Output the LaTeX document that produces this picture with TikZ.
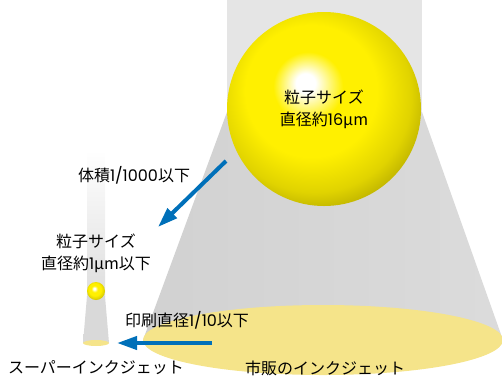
\documentclass[tikz,border=0pt]{standalone}
\usepackage{fontspec}
\setmainfont{Noto Sans CJK JP}
\newfontfamily\numfont{Poppins}
\newcommand{\numtext}[1]{{\numfont #1}}
\usetikzlibrary{arrows.meta}
\definecolor{arrowblue}{RGB}{0,112,185}
\definecolor{inkyellow}{RGB}{245,228,138}
\definecolor{ballyellow}{RGB}{255,240,0}
\pgfdeclareradialshading{yellowball}{\pgfpoint{-5bp}{7bp}}{%
	color(0bp)=(white); color(2.5bp)=(white); color(9bp)=(ballyellow);
	color(17bp)=(ballyellow); color(25bp)=(ballyellow!88!black);
	color(34bp)=(ballyellow!60!black); color(50bp)=(ballyellow!60!black)}
\tikzset{
	label text/.style={font=\fontsize{16}{22}\selectfont, align=center, inner sep=0pt},
	droplet/.style={circle, shading=yellowball, inner sep=0pt},
	flow/.style={draw=arrowblue, line width=4pt, -{Triangle[length=20pt,width=13pt]}},
}
\begin{document}
\begin{tikzpicture}[x=1pt,y=-1pt]
	\useasboundingbox (0,0) rectangle (502,378);
	% commercial nozzle and its spray
	\fill[black!10] (227,0) rectangle (422,112);
	\shade[left color=black!18, middle color=white, right color=black!14] (227,112) -- (422,112) -- (503,340) -- (143,340) -- cycle;
	\fill[inkyellow] (323,340) ellipse [x radius=180, y radius=35];
	% super inkjet nozzle
	\shade[top color=white, bottom color=black!13] (87,150) rectangle (105,296);
	\shade[left color=black!15, middle color=white, right color=black!15] (87,296) -- (105,296) -- (109,343) -- (83,343) -- cycle;
	\fill[inkyellow] (96,343) ellipse [x radius=13, y radius=3];
	
	\node (bigball) [droplet, minimum size=194pt, label text] at (324,109) {粒子サイズ\\直径約\numtext{16}μm};
	\node (smallball) [droplet, minimum size=18pt] at (96,291) {};
	\node (volume) [label text] at (134,175) {体積\numtext{1/1000}以下};
	\node (smallsize) [label text] at (96,253) {粒子サイズ\\直径約\numtext{1}μm以下};
	\node (printsize) [label text] at (187,320) {印刷直径\numtext{1/10}以下};
	\node (superjet) [label text] at (96,368) {スーパーインクジェット};
	\node (marketjet) [label text] at (325,368) {市販のインクジェット};
	
	\coordinate (shrinkfrom) at (226,161);
	\coordinate (shrinkto) at (158,227);
	\coordinate (narrowfrom) at (212,343);
	\coordinate (narrowto) at (117,343);
	\draw[flow] (shrinkfrom) -- (shrinkto);
	\draw[flow] (narrowfrom) -- (narrowto);
\end{tikzpicture}
\end{document}
